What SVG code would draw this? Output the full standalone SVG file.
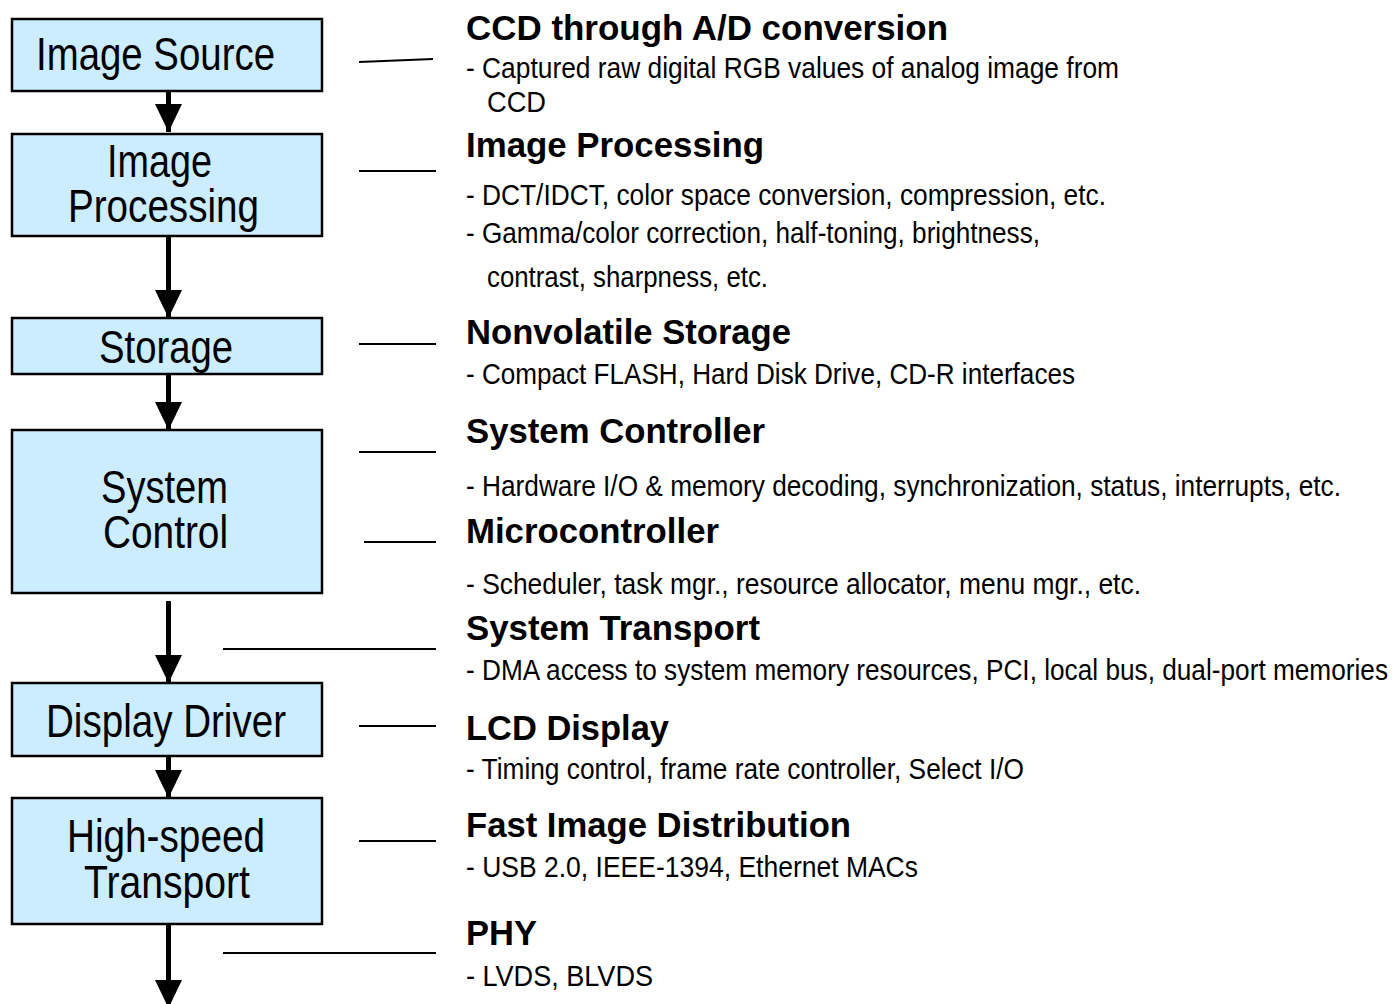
<svg xmlns="http://www.w3.org/2000/svg" width="1392" height="1004" viewBox="0 0 1392 1004">
<defs>
<style>
.box{fill:#CCECFF;stroke:#000;stroke-width:2.5}
.bl{font-family:"Liberation Sans",Arial,sans-serif;font-size:47px;fill:#000}
.h{font-family:"Liberation Sans",Arial,sans-serif;font-size:35px;font-weight:bold;fill:#000}
.d{font-family:"Liberation Sans",Arial,sans-serif;font-size:29px;fill:#000}
.lead{stroke:#000;stroke-width:2.2;fill:none}
.shaft{stroke:#000;stroke-width:5;fill:none}
</style>
<marker id="ah" viewBox="0 0 28 27" refX="28" refY="13.5" markerWidth="28" markerHeight="27" markerUnits="userSpaceOnUse" orient="auto">
<path d="M0,0 L28,13.5 L0,27 Z" fill="#000"/>
</marker>
</defs>
<rect width="1392" height="1004" fill="#fff"/>

<g id="connectors">
<line class="shaft" x1="168.5" y1="92" x2="168.5" y2="132" marker-end="url(#ah)"/>
<line class="shaft" x1="168.5" y1="236" x2="168.5" y2="318" marker-end="url(#ah)"/>
<line class="shaft" x1="168.5" y1="374" x2="168.5" y2="430" marker-end="url(#ah)"/>
<line class="shaft" x1="168.5" y1="601" x2="168.5" y2="683" marker-end="url(#ah)"/>
<line class="shaft" x1="168.5" y1="756" x2="168.5" y2="798" marker-end="url(#ah)"/>
<line class="shaft" x1="168.5" y1="924" x2="168.5" y2="1008" marker-end="url(#ah)"/>
<line class="lead" x1="359" y1="62" x2="433" y2="59"/>
<line class="lead" x1="359" y1="171" x2="436" y2="171"/>
<line class="lead" x1="359" y1="344" x2="436" y2="344"/>
<line class="lead" x1="359" y1="452" x2="436" y2="452"/>
<line class="lead" x1="364" y1="542" x2="436" y2="542"/>
<line class="lead" x1="223" y1="649" x2="436" y2="649"/>
<line class="lead" x1="359" y1="726" x2="436" y2="726"/>
<line class="lead" x1="359" y1="841" x2="436" y2="841"/>
<line class="lead" x1="223" y1="953" x2="436" y2="953"/>
</g>

<g id="image-source">
<rect class="box" x="12" y="19" width="310" height="72"/>
<text class="bl" x="36" y="70" textLength="239" lengthAdjust="spacingAndGlyphs">Image Source</text>
</g>
<g id="image-processing">
<rect class="box" x="12" y="134" width="310" height="102"/>
<text class="bl" x="107" y="177" textLength="105" lengthAdjust="spacingAndGlyphs">Image</text>
<text class="bl" x="68" y="222" textLength="191" lengthAdjust="spacingAndGlyphs">Processing</text>
</g>
<g id="storage">
<rect class="box" x="12" y="318" width="310" height="56"/>
<text class="bl" x="99" y="363" textLength="134" lengthAdjust="spacingAndGlyphs">Storage</text>
</g>
<g id="system-control">
<rect class="box" x="12" y="430" width="310" height="163"/>
<text class="bl" x="101" y="503" textLength="127" lengthAdjust="spacingAndGlyphs">System</text>
<text class="bl" x="103" y="548" textLength="125" lengthAdjust="spacingAndGlyphs">Control</text>
</g>
<g id="display-driver">
<rect class="box" x="12" y="683" width="310" height="73"/>
<text class="bl" x="46" y="737" textLength="240" lengthAdjust="spacingAndGlyphs">Display Driver</text>
</g>
<g id="high-speed-transport">
<rect class="box" x="12" y="798" width="310" height="126"/>
<text class="bl" x="67" y="852" textLength="198" lengthAdjust="spacingAndGlyphs">High-speed</text>
<text class="bl" x="84" y="898" textLength="166" lengthAdjust="spacingAndGlyphs">Transport</text>
</g>

<g id="desc-ccd">
<text class="h" x="466" y="40" textLength="482" lengthAdjust="spacingAndGlyphs">CCD through A/D conversion</text>
<text class="d" x="466" y="78" textLength="653" lengthAdjust="spacingAndGlyphs">- Captured raw digital RGB values of analog image from</text>
<text class="d" x="487" y="112" textLength="59" lengthAdjust="spacingAndGlyphs">CCD</text>
</g>
<g id="desc-image-processing">
<text class="h" x="466" y="157" textLength="298" lengthAdjust="spacingAndGlyphs">Image Processing</text>
<text class="d" x="466" y="205" textLength="640" lengthAdjust="spacingAndGlyphs">- DCT/IDCT, color space conversion, compression, etc.</text>
<text class="d" x="466" y="243" textLength="574" lengthAdjust="spacingAndGlyphs">- Gamma/color correction, half-toning, brightness,</text>
<text class="d" x="487" y="287" textLength="281" lengthAdjust="spacingAndGlyphs">contrast, sharpness, etc.</text>
</g>
<g id="desc-storage">
<text class="h" x="466" y="344" textLength="325" lengthAdjust="spacingAndGlyphs">Nonvolatile Storage</text>
<text class="d" x="466" y="384" textLength="609" lengthAdjust="spacingAndGlyphs">- Compact FLASH, Hard Disk Drive, CD-R interfaces</text>
</g>
<g id="desc-system-controller">
<text class="h" x="466" y="443" textLength="299" lengthAdjust="spacingAndGlyphs">System Controller</text>
<text class="d" x="466" y="496" textLength="875" lengthAdjust="spacingAndGlyphs">- Hardware I/O &amp; memory decoding, synchronization, status, interrupts, etc.</text>
</g>
<g id="desc-microcontroller">
<text class="h" x="466" y="543" textLength="253" lengthAdjust="spacingAndGlyphs">Microcontroller</text>
<text class="d" x="466" y="594" textLength="675" lengthAdjust="spacingAndGlyphs">- Scheduler, task mgr., resource allocator, menu mgr., etc.</text>
</g>
<g id="desc-system-transport">
<text class="h" x="466" y="640" textLength="294" lengthAdjust="spacingAndGlyphs">System Transport</text>
<text class="d" x="466" y="680" textLength="922" lengthAdjust="spacingAndGlyphs">- DMA access to system memory resources, PCI, local bus, dual-port memories</text>
</g>
<g id="desc-lcd">
<text class="h" x="466" y="740" textLength="203" lengthAdjust="spacingAndGlyphs">LCD Display</text>
<text class="d" x="466" y="779" textLength="558" lengthAdjust="spacingAndGlyphs">- Timing control, frame rate controller, Select I/O</text>
</g>
<g id="desc-fast-image">
<text class="h" x="466" y="837" textLength="385" lengthAdjust="spacingAndGlyphs">Fast Image Distribution</text>
<text class="d" x="466" y="877" textLength="452" lengthAdjust="spacingAndGlyphs">- USB 2.0, IEEE-1394, Ethernet MACs</text>
</g>
<g id="desc-phy">
<text class="h" x="466" y="945" textLength="71" lengthAdjust="spacingAndGlyphs">PHY</text>
<text class="d" x="466" y="986" textLength="187" lengthAdjust="spacingAndGlyphs">- LVDS, BLVDS</text>
</g>
</svg>
